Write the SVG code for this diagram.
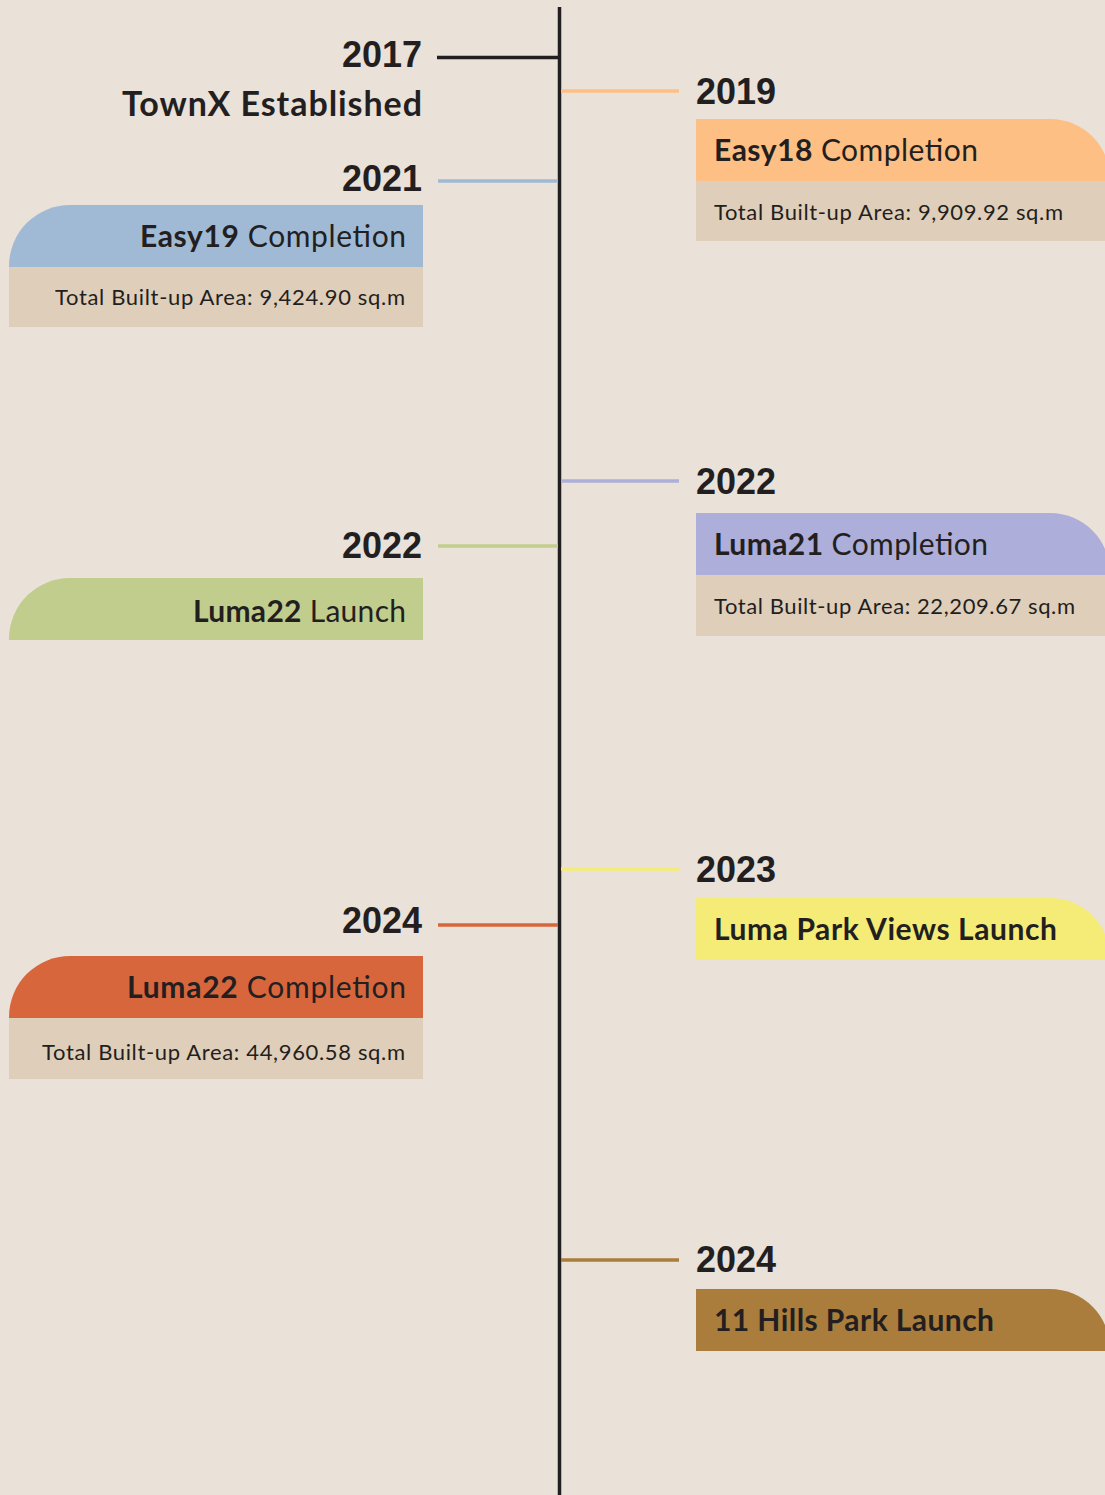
<svg xmlns="http://www.w3.org/2000/svg" width="1105" height="1495" viewBox="0 0 1105 1495">
<style>
.yr{font-family:"Liberation Sans",Arial,sans-serif;font-weight:700;font-size:36px;fill:#231F20}
.lbl{font-family:Lato,"Noto Sans",sans-serif;font-size:30px;fill:#231F20}
.b{font-weight:700}
.info{font-family:Lato,"Noto Sans",sans-serif;font-size:22px;fill:#231F20}
.strip{fill:#DFCEBA}
.l{text-anchor:end}
.tick{stroke-width:3.5;fill:none}
</style>
<rect width="1105" height="1495" fill="#EAE1D8"/>
<g id="connectors">
<line x1="559.5" y1="7" x2="559.5" y2="1495" stroke="#231F20" stroke-width="3.5"/>
<line class="tick" x1="437" y1="57.5" x2="559" y2="57.5" stroke="#231F20"/>
<line class="tick" x1="561" y1="91" x2="679" y2="91" stroke="#FDBF83"/>
<line class="tick" x1="438" y1="181" x2="558" y2="181" stroke="#A0BAD5"/>
<line class="tick" x1="561" y1="481" x2="679" y2="481" stroke="#ADAED9"/>
<line class="tick" x1="438" y1="546" x2="558" y2="546" stroke="#C2CE8E"/>
<line class="tick" x1="561" y1="869" x2="679" y2="869" stroke="#F5EC78"/>
<line class="tick" x1="438" y1="925" x2="558" y2="925" stroke="#D8663C"/>
<line class="tick" x1="561" y1="1260" x2="679" y2="1260" stroke="#AA7D3C"/>
</g>
<g id="n2017">
<text class="yr l" x="422" y="67" textLength="80" lengthAdjust="spacingAndGlyphs">2017</text>
<text class="lbl b l" x="422" y="116" style="font-size:34px" textLength="300" lengthAdjust="spacing">TownX Established</text>
</g>
<g id="n2019">
<text class="yr" x="696" y="104" textLength="80" lengthAdjust="spacingAndGlyphs">2019</text>
<path d="M696,119 H1050 A60,60 0 0 1 1110,179 V181 H696 Z" fill="#FDBF83"/>
<rect class="strip" x="696" y="181" width="414" height="60"/>
<text class="lbl" x="714" y="161" textLength="264" lengthAdjust="spacing"><tspan class="b">Easy18</tspan> Completion</text>
<text class="info" x="714" y="220" textLength="349" lengthAdjust="spacing">Total Built-up Area: 9,909.92 sq.m</text>
</g>
<g id="n2021">
<text class="yr l" x="422" y="191" textLength="80" lengthAdjust="spacingAndGlyphs">2021</text>
<path d="M423,205 H70 A61,61 0 0 0 9,266 V267 H423 Z" fill="#A0BAD5"/>
<rect class="strip" x="9" y="267" width="414" height="60"/>
<text class="lbl l" x="406" y="247" textLength="266" lengthAdjust="spacing"><tspan class="b">Easy19</tspan> Completion</text>
<text class="info l" x="405" y="305" textLength="350" lengthAdjust="spacing">Total Built-up Area: 9,424.90 sq.m</text>
</g>
<g id="n2022r">
<text class="yr" x="696" y="494" textLength="80" lengthAdjust="spacingAndGlyphs">2022</text>
<path d="M696,513 H1050 A60,60 0 0 1 1110,573 V575 H696 Z" fill="#ADAED9"/>
<rect class="strip" x="696" y="575" width="414" height="61"/>
<text class="lbl" x="714" y="555" textLength="274" lengthAdjust="spacing"><tspan class="b">Luma21</tspan> Completion</text>
<text class="info" x="714" y="614" textLength="361" lengthAdjust="spacing">Total Built-up Area: 22,209.67 sq.m</text>
</g>
<g id="n2022l">
<text class="yr l" x="422" y="558" textLength="80" lengthAdjust="spacingAndGlyphs">2022</text>
<path d="M423,578 H70 A61,61 0 0 0 9,639 V640 H423 Z" fill="#C1CD8D"/>
<text class="lbl l" x="406" y="622" textLength="213" lengthAdjust="spacing"><tspan class="b">Luma22</tspan> Launch</text>
</g>
<g id="n2023">
<text class="yr" x="696" y="882" textLength="80" lengthAdjust="spacingAndGlyphs">2023</text>
<path d="M696,898 H1050 A60,60 0 0 1 1110,958 V960 H696 Z" fill="#F5EC78"/>
<text class="lbl b" x="714" y="940" textLength="343" lengthAdjust="spacing">Luma Park Views Launch</text>
</g>
<g id="n2024l">
<text class="yr l" x="422" y="933" textLength="80" lengthAdjust="spacingAndGlyphs">2024</text>
<path d="M423,956 H70 A61,61 0 0 0 9,1017 V1018 H423 Z" fill="#D8663C"/>
<rect class="strip" x="9" y="1018" width="414" height="61"/>
<text class="lbl l" x="406" y="998" textLength="279" lengthAdjust="spacing"><tspan class="b">Luma22</tspan> Completion</text>
<text class="info l" x="405" y="1060" textLength="363" lengthAdjust="spacing">Total Built-up Area: 44,960.58 sq.m</text>
</g>
<g id="n2024r">
<text class="yr" x="696" y="1272" textLength="80" lengthAdjust="spacingAndGlyphs">2024</text>
<path d="M696,1289 H1050 A60,60 0 0 1 1110,1349 V1351 H696 Z" fill="#AA7D3C"/>
<text class="lbl b" x="714" y="1331" textLength="280" lengthAdjust="spacing">11 Hills Park Launch</text>
</g>
</svg>
